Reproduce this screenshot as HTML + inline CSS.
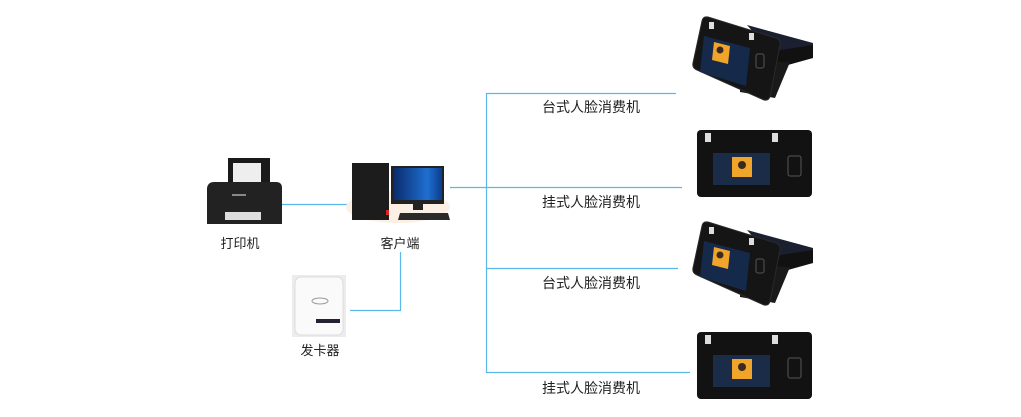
<!DOCTYPE html>
<html><head><meta charset="utf-8"><style>
body{margin:0;width:1021px;height:417px;background:#fff;overflow:hidden;position:relative;font-family:"Liberation Sans","Noto Sans CJK SC",sans-serif}
.t{position:absolute;font-size:14px;color:#222;white-space:nowrap}
.s{position:absolute;font-size:13px;color:#222;white-space:nowrap;transform:translateX(-50%)}
svg{position:absolute;left:0;top:0}
</style></head><body>
<svg width="1021" height="417">
<defs>
<linearGradient id="win" x1="0" y1="0" x2="1" y2="0"><stop offset="0" stop-color="#0a2a6a"/><stop offset="0.7" stop-color="#1f6fd0"/><stop offset="1" stop-color="#0b3c8c"/></linearGradient>
<g id="desk">
<polygon points="747,25 813,43 813,58 780,63" fill="#1b2030"/>
<polygon points="780,50 813,45 813,58 770,70" fill="#111"/>
<polygon points="740,60 790,62 775,98 740,92" fill="#1a1a1a"/>
<path d="M708 17 L776 38 Q781 40 780 45 L770 96 Q769 101 764 100 L697 70 Q692 68 693 63 L702 21 Q703 16 708 17Z" fill="#151515" stroke="#2a2a2a"/>
<polygon points="704,36 750,48 746,86 700,72" fill="#15294a"/>
<polygon points="714,42 730,46 728,64 712,60" fill="#f0a52a"/>
<circle cx="720" cy="50" r="3.5" fill="#3a2a20"/>
<rect x="709" y="22" width="5" height="7" fill="#ddd"/><rect x="749" y="33" width="5" height="7" fill="#ddd"/>
<rect x="756" y="54" width="8" height="14" rx="2" fill="none" stroke="#555"/>
</g>
<g id="wall">
<rect x="697" y="130" width="115" height="67" rx="4" fill="#121212"/>
<rect x="713" y="153" width="57" height="32" fill="#1a2c48"/>
<rect x="732" y="157" width="20" height="20" fill="#f0a52a"/>
<circle cx="742" cy="165" r="4" fill="#3a2a20"/>
<rect x="705" y="133" width="6" height="9" fill="#ddd"/><rect x="772" y="133" width="6" height="9" fill="#ddd"/>
<rect x="788" y="156" width="13" height="20" rx="2" fill="none" stroke="#555"/>
</g>
</defs>
<g stroke="#5bb8ea" stroke-width="1.2" fill="none">
<path d="M486.5 93.5V372.5M486 93.5H676M450 187.5H682M486 268.5H678M486 372.5H690M282 204.5H347M400.5 252V310.5H350"/>
</g>
<use href="#desk"/>
<use href="#desk" transform="translate(0,205)"/>
<use href="#wall"/>
<use href="#wall" transform="translate(0,202)"/>
<rect x="228" y="158" width="42" height="30" fill="#1a1a1a"/>
<rect x="233" y="163" width="28" height="25" fill="#eee"/>
<path d="M207 188 Q208 182 214 182 L276 182 Q282 182 282 188 L282 224 L207 224Z" fill="#222"/>
<rect x="225" y="212" width="36" height="8" fill="#ddd"/>
<rect x="232" y="194" width="14" height="2" fill="#888"/>
<ellipse cx="398" cy="207" rx="52" ry="16" fill="#fcf0e4"/>
<rect x="352" y="163" width="37" height="57" fill="#1c1c1c"/>
<rect x="386" y="210" width="3" height="5" fill="#d22"/>
<rect x="391" y="166" width="53" height="38" fill="#222"/>
<rect x="393" y="168" width="49" height="32" fill="url(#win)"/>
<rect x="413" y="204" width="10" height="6" fill="#222"/>
<polygon points="400,213 448,213 450,220 398,220" fill="#2a2a2a"/>
<rect x="292" y="275" width="54" height="62" fill="#ececec"/>
<rect x="295" y="277" width="48" height="58" rx="6" fill="#fafafa" stroke="#ddd"/>
<rect x="316" y="319" width="24" height="4" fill="#223"/>
<ellipse cx="320" cy="301" rx="8" ry="3" fill="none" stroke="#999"/>
</svg>
<div class="t" style="left:542px;top:97px">台式人脸消费机</div>
<div class="t" style="left:542px;top:192px">挂式人脸消费机</div>
<div class="t" style="left:542px;top:273px">台式人脸消费机</div>
<div class="t" style="left:542px;top:378px">挂式人脸消费机</div>
<div class="s" style="left:240px;top:233px">打印机</div>
<div class="s" style="left:400px;top:233px">客户端</div>
<div class="s" style="left:320px;top:340px">发卡器</div>
</body></html>
